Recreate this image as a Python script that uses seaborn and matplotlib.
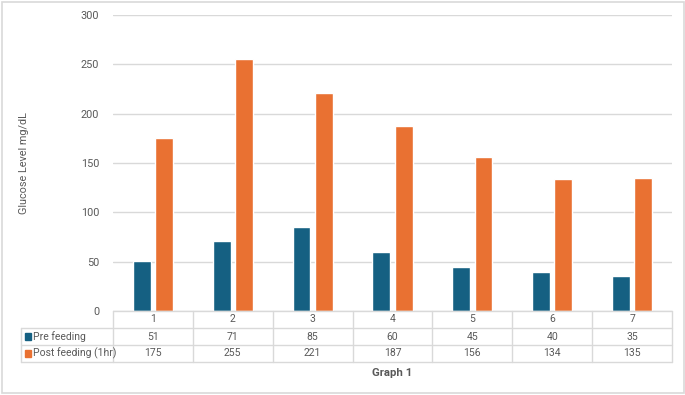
import matplotlib
matplotlib.use("Agg")
import matplotlib.pyplot as plt
import matplotlib.transforms as mtransforms
from matplotlib.lines import Line2D
from matplotlib.patches import Rectangle
import seaborn as sns
import pandas as pd

categories = ["1", "2", "3", "4", "5", "6", "7"]
series_names = ["Pre feeding", "Post feeding (1hr)"]
pre_feeding = [51, 71, 85, 60, 45, 40, 35]
post_feeding = [175, 255, 221, 187, 156, 134, 135]
y_ticks = [0, 50, 100, 150, 200, 250, 300]
colors = ["#156082", "#E97132"]

df = pd.DataFrame({
    "category": categories * 2,
    "series": [series_names[0]] * len(categories) + [series_names[1]] * len(categories),
    "value": pre_feeding + post_feeding,
})

sns.set_theme(style="white")
plt.rcParams["font.family"] = ["Roboto", "DejaVu Sans"]

W, H = 685, 395
fig = plt.figure(figsize=(W / 100, H / 100), dpi=100)
fx = lambda x: x / W
fy = lambda y: 1 - y / H

left_px, right_px, top_px, bottom_px = 113, 672, 15, 311
ax = fig.add_axes([fx(left_px), fy(bottom_px), fx(right_px) - fx(left_px), fy(top_px) - fy(bottom_px)])

sns.barplot(data=df, x="category", y="value", hue="series", palette=colors,
            width=0.56, gap=0.2, ax=ax, legend=False, saturation=1)

ax.set_ylim(0, 300)
ax.set_xlim(-0.5, len(categories) - 0.5)
ax.set_yticks(y_ticks)
ax.set_yticklabels([str(t) for t in y_ticks], fontsize=7.8, color="#595959")
ax.tick_params(axis="y", length=0, pad=10)
ax.set_xticks([])
ax.set_xlabel("")
ax.set_ylabel("")
ax.yaxis.grid(True, color="#d9d9d9", linewidth=1)
ax.set_axisbelow(True)
for s in ax.spines.values():
    s.set_visible(False)

text_color = "#595959"
line_color = "#d9d9d9"

fig.text(fx(24), fy(163), "Glucose Level mg/dL", rotation=90, ha="center", va="center",
         fontsize=7.8, color=text_color)

# Data table
trans = mtransforms.blended_transform_factory(ax.transData, fig.transFigure)
row_y = [311, 328, 345, 362]
n = len(categories)
label_left_px = 21
fig.add_artist(Line2D([fx(left_px), fx(right_px)], [fy(row_y[0])] * 2, color=line_color, lw=1))
for y in row_y[1:]:
    fig.add_artist(Line2D([fx(label_left_px), fx(right_px)], [fy(y)] * 2, color=line_color, lw=1))
for i in range(n + 1):
    xd = -0.5 + i
    fig.add_artist(Line2D([xd, xd], [fy(row_y[0]), fy(row_y[3])], color=line_color, lw=1, transform=trans))
fig.add_artist(Line2D([fx(label_left_px)] * 2, [fy(row_y[1]), fy(row_y[3])], color=line_color, lw=1))

def ymid(r):
    return fy((row_y[r] + row_y[r + 1]) / 2)

for i, c in enumerate(categories):
    fig.text(i, ymid(0), c, transform=trans, ha="center", va="center", fontsize=7.5, color=text_color)
    fig.text(i, ymid(1), str(pre_feeding[i]), transform=trans, ha="center", va="center", fontsize=7.5, color=text_color)
    fig.text(i, ymid(2), str(post_feeding[i]), transform=trans, ha="center", va="center", fontsize=7.5, color=text_color)

for r, (name, col) in enumerate(zip(series_names, colors)):
    yc = (row_y[r + 1] + row_y[r + 2]) / 2
    fig.add_artist(Rectangle((fx(25), fy(yc + 3)), fx(6), fy(yc - 3) - fy(yc + 3), color=col))
    fig.text(fx(33), fy(yc), name, ha="left", va="center", fontsize=7.5, color=text_color)

fig.text((fx(left_px) + fx(right_px)) / 2, fy(373), "Graph 1", ha="center", va="center",
         fontsize=8.2, fontweight="bold", color=text_color)

fig.add_artist(Rectangle((fx(1.5), fy(393)), fx(682), fy(1.5) - fy(393), fill=False,
                         edgecolor="#d9d9d9", lw=1.2))

fig.savefig("out.png", dpi=100)
